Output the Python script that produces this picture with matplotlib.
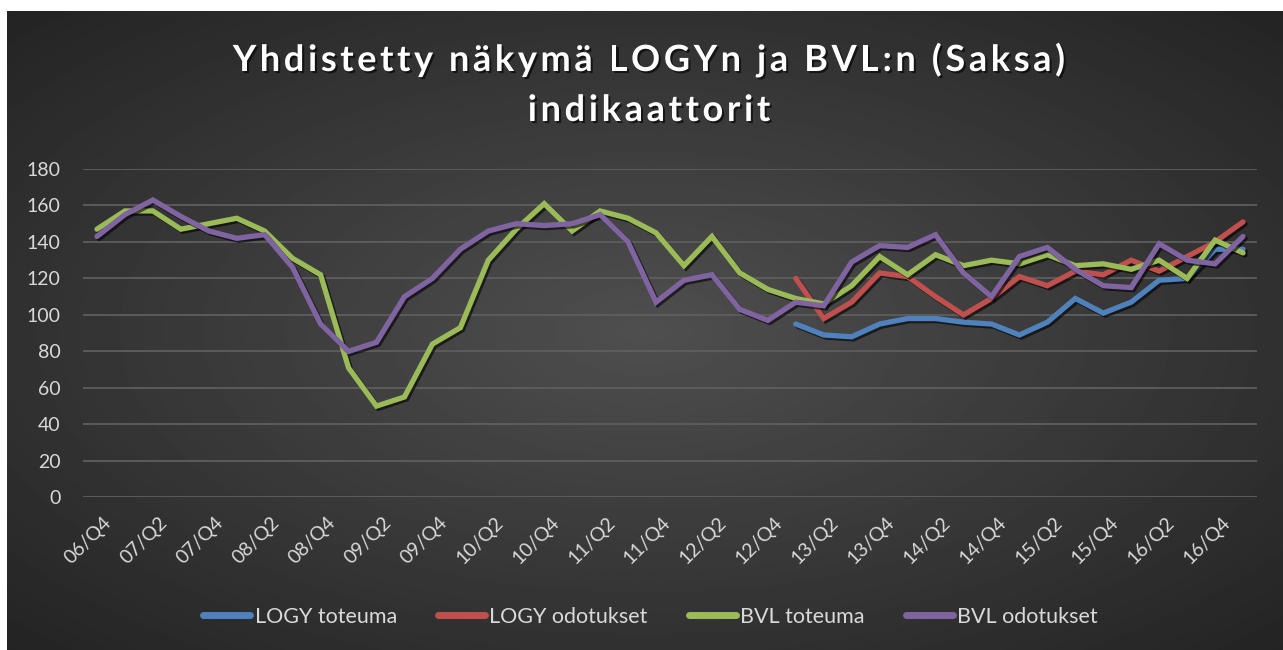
import numpy as np
import matplotlib
matplotlib.use("Agg")
import matplotlib.pyplot as plt
import matplotlib.patheffects as pe
import matplotlib.transforms as mtransforms

plt.rcParams['font.family'] = ['Lato', 'DejaVu Sans']

# quarters 06/Q4 .. 17/Q1
quarters = ['06/Q4',
            '07/Q1', '07/Q2', '07/Q3', '07/Q4',
            '08/Q1', '08/Q2', '08/Q3', '08/Q4',
            '09/Q1', '09/Q2', '09/Q3', '09/Q4',
            '10/Q1', '10/Q2', '10/Q3', '10/Q4',
            '11/Q1', '11/Q2', '11/Q3', '11/Q4',
            '12/Q1', '12/Q2', '12/Q3', '12/Q4',
            '13/Q1', '13/Q2', '13/Q3', '13/Q4',
            '14/Q1', '14/Q2', '14/Q3', '14/Q4',
            '15/Q1', '15/Q2', '15/Q3', '15/Q4',
            '16/Q1', '16/Q2', '16/Q3', '16/Q4',
            '17/Q1']

nan = np.nan
logy_toteuma = [nan] * 25 + [95, 89, 88, 95, 98, 98, 96, 95, 89, 96, 109, 101,
                             107, 119, 120, 136, 136]
logy_odotukset = [nan] * 25 + [120, 98, 107, 123, 121, 110, 100, 109, 121, 116,
                               124, 122, 130, 124, 132, 140, 151]
bvl_toteuma = [147, 157, 157, 147, 150, 153, 146, 131, 122, 71, 50, 55, 84, 93,
               130, 147, 161, 146, 157, 153, 145, 127, 143, 123, 114, 109, 106,
               116, 132, 122, 133, 127, 130, 128, 133, 127, 128, 125, 130, 120,
               141, 134]
bvl_odotukset = [143, 155, 163, 154, 146, 142, 144, 126, 95, 80, 85, 110, 120,
                 136, 146, 150, 149, 150, 155, 140, 107, 119, 122, 103, 97, 107,
                 105, 129, 138, 137, 144, 123, 110, 132, 137, 125, 116, 115, 139,
                 130, 128, 143]

series = [
    ("LOGY toteuma", logy_toteuma, "#4F81BD"),
    ("LOGY odotukset", logy_odotukset, "#C0504D"),
    ("BVL toteuma", bvl_toteuma, "#9BBB59"),
    ("BVL odotukset", bvl_odotukset, "#8064A2"),
]

title_lines = ["Yhdistetty näkymä LOGYn ja BVL:n (Saksa)", "indikaattorit"]

W, H = 1283, 650
fig = plt.figure(figsize=(W / 100, H / 100), dpi=100)
fig.patch.set_facecolor("white")

# dark radial gradient background
bg = fig.add_axes([7 / W, 0, 1 - 7 / W, 1 - 11 / H])
gx, gy = np.meshgrid(np.linspace(-1, 1, 600), np.linspace(-1, 1, 300))
r = np.sqrt(gx ** 2 + gy ** 2) / np.sqrt(2)
shade = 0.31 - 0.17 * r
bg.imshow(shade, cmap="gray", vmin=0, vmax=1, aspect="auto",
          extent=[0, 1, 0, 1])
bg.set_axis_off()

ax = fig.add_axes([83 / W, (H - 497.3) / H, 1174 / W, 328.3 / H])
ax.patch.set_alpha(0)

x = np.arange(len(quarters))
shadow = [pe.SimpleLineShadow(offset=(1.5, -1.5), shadow_color="black", alpha=0.6),
          pe.Normal()]
for name, vals, col in series:
    ax.plot(x, vals, color=col, lw=3.8, label=name, solid_capstyle="round",
            solid_joinstyle="miter", path_effects=shadow)

ax.set_xlim(-0.5, len(quarters) - 0.5)
ax.set_ylim(0, 180)
ax.set_yticks(range(0, 181, 20))
ax.grid(axis="y", color="#5e5e5e", lw=1.3)
ax.set_axisbelow(True)
for s in ax.spines.values():
    s.set_visible(False)

ax.set_xticks(x[::2])
ax.set_xticklabels(quarters[::2], rotation=45, ha="right",
                   rotation_mode="anchor")
ax.tick_params(axis="both", length=0, colors="#d9d9d9", labelsize=14)
ax.tick_params(axis="x", pad=12)
ax.tick_params(axis="y", pad=16)
shift = mtransforms.ScaledTranslation(6 / 100, 0, fig.dpi_scale_trans)
for lab in ax.get_xticklabels():
    lab.set_transform(lab.get_transform() + shift)

# title with extra letter spacing, placed char by char
renderer = fig.canvas.get_renderer()
title_fx = [pe.withSimplePatchShadow(offset=(1.5, -1.5), shadow_rgbFace="black",
                                     alpha=0.6)]
tracking = 3.6
for line, ybase in zip(title_lines, [H - 71, H - 121]):
    def width(s):
        t = fig.text(0, 0, s + "I", fontsize=26, fontweight="bold")
        w = t.get_window_extent(renderer).width
        t.remove()
        return w
    w0 = width("")
    offs = [width(line[:k]) - w0 + k * tracking for k in range(len(line) + 1)]
    total = offs[-1] - tracking
    x0 = 649 - total / 2
    for k, ch in enumerate(line):
        if ch == " ":
            continue
        fig.text(x0 + offs[k], ybase, ch, fontsize=26, fontweight="bold",
                 color="white", ha="left", va="baseline",
                 transform=mtransforms.IdentityTransform(),
                 path_effects=title_fx)

leg = fig.legend(loc="center", bbox_to_anchor=(0.507, 0.051), ncol=4,
                 frameon=False, fontsize=15.5, labelcolor="#d9d9d9",
                 handlelength=2.2, handletextpad=0.2, columnspacing=1.9)
for line in leg.get_lines():
    line.set_linewidth(5)
    line.set_path_effects([])

fig.savefig("out.png", dpi=100)
